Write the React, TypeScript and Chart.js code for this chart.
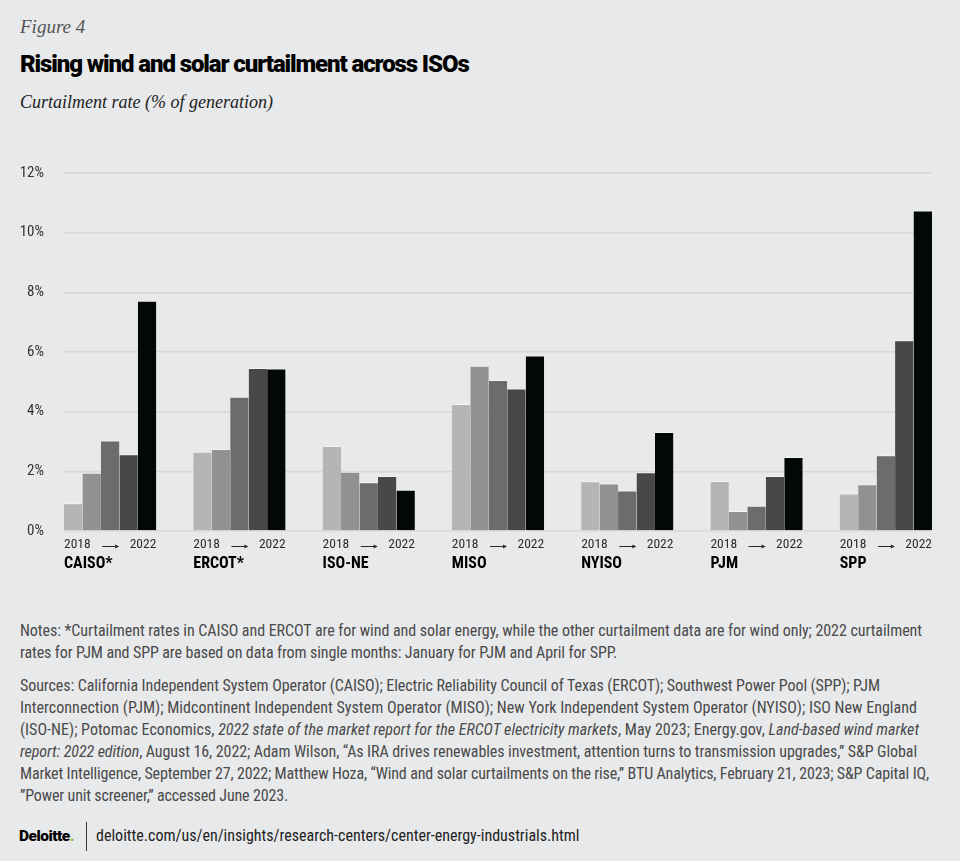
import React, { useEffect, useLayoutEffect, useRef } from 'react';
import { Chart, registerables } from 'chart.js';

Chart.register(...registerables);

// ---------- data ----------
const isos = ['CAISO*', 'ERCOT*', 'ISO-NE', 'MISO', 'NYISO', 'PJM', 'SPP'];
const years = ['2018', '2019', '2020', '2021', '2022'];
const v2018 = [0.93, 2.66, 2.85, 4.26, 1.67, 1.68, 1.26];
const v2019 = [1.95, 2.75, 1.99, 5.54, 1.59, 0.67, 1.57];
const v2020 = [3.03, 4.5, 1.63, 5.06, 1.36, 0.85, 2.54];
const v2021 = [2.57, 5.46, 1.84, 4.78, 1.97, 1.84, 6.39];
const v2022 = [7.72, 5.45, 1.38, 5.88, 3.32, 2.48, 10.74];
const seriesValues = [v2018, v2019, v2020, v2021, v2022];
const barColors = ['#b5b5b5', '#919191', '#6b6c6b', '#484848', '#040708'];
const yMin = 0;
const yMax = 12;
const yStep = 2;

const NARROW = '"Liberation Sans Narrow", "Roboto Condensed", Roboto, sans-serif';
const SANS = 'Roboto, "Noto Sans", sans-serif';
const SERIF = '"Liberation Serif", "DejaVu Serif", serif';

const groupLabels = {
  id: 'groupLabels',
  afterDraw(chart: any) {
    const ctx = chart.ctx;
    const first = chart.getDatasetMeta(0);
    const last = chart.getDatasetMeta(chart.data.datasets.length - 1);
    const base = chart.chartArea.bottom;
    isos.forEach((name, i) => {
      const b0 = first.data[i] as any;
      const b1 = last.data[i] as any;
      if (!b0 || !b1) return;
      const left = b0.x - b0.width / 2;
      const right = b1.x + b1.width / 2;
      const yy = base + 14;
      ctx.save();
      ctx.fillStyle = '#2b2b2b';
      ctx.font = `13.5px ${NARROW}`;
      ctx.textBaseline = 'middle';
      ctx.textAlign = 'left';
      ctx.fillText(years[0], left, yy);
      ctx.textAlign = 'right';
      ctx.fillText(years[years.length - 1], right, yy);
      const mid = (left + right) / 2;
      ctx.strokeStyle = '#2b2b2b';
      ctx.lineWidth = 1;
      ctx.beginPath();
      ctx.moveTo(mid - 8, yy + 1.5);
      ctx.lineTo(mid + 6, yy + 1.5);
      ctx.stroke();
      ctx.beginPath();
      ctx.moveTo(mid + 9, yy + 1.5);
      ctx.lineTo(mid + 5, yy - 0.5);
      ctx.lineTo(mid + 5, yy + 3.5);
      ctx.closePath();
      ctx.fill();
      ctx.font = `bold 16px ${NARROW}`;
      ctx.fillStyle = '#000';
      ctx.textAlign = 'left';
      ctx.fillText(name, left, base + 33);
      ctx.restore();
    });
  },
};

type LineProps = { top: number; width: number; children: React.ReactNode };

function FitLine({ top, width, children }: LineProps) {
  const r = useRef<HTMLSpanElement | null>(null);
  useLayoutEffect(() => {
    const el = r.current;
    if (!el) return;
    el.style.letterSpacing = '0px';
    const w = el.getBoundingClientRect().width;
    const n = (el.textContent || '').length || 1;
    el.style.letterSpacing = `${(width - w) / n}px`;
  }, [width]);
  return (
    <div
      style={{
        position: 'absolute',
        left: 20,
        top,
        whiteSpace: 'nowrap',
        fontFamily: NARROW,
        fontSize: 16,
        color: '#4a4a4a',
        lineHeight: '22px',
      }}
    >
      <span ref={r} style={{ display: 'inline-block' }}>
        {children}
      </span>
    </div>
  );
}

export default function App() {
  const ref = useRef<HTMLCanvasElement | null>(null);

  useEffect(() => {
    document.body.style.margin = '0';
    document.body.style.background = '#e8e9eb';
    if (!ref.current) return;
    const chart = new Chart(ref.current, {
      type: 'bar',
      data: {
        datasets: years.map((yr, k) => ({
          label: yr,
          data: seriesValues[k].map((v, i) => ({ x: i, y: v })),
          backgroundColor: barColors[k],
          borderColor: 'rgba(255,255,255,0.55)',
          borderWidth: { top: 1, left: 0, right: 0, bottom: 0 },
          borderSkipped: false,
          barPercentage: 1,
          categoryPercentage: 0.714,
        })),
      },
      options: {
        animation: false,
        responsive: true,
        maintainAspectRatio: false,
        layout: { padding: { top: 33, right: 28, left: 0, bottom: 0 } },
        plugins: { legend: { display: false }, tooltip: { enabled: false } },
        scales: {
          x: {
            type: 'linear',
            offset: false,
            min: -0.357,
            max: isos.length - 1 + 0.357,
            ticks: { display: false },
            grid: { display: false, offset: false },
            border: { display: false },
            afterFit: (s: any) => {
              s.height = 59;
            },
          },
          y: {
            min: yMin,
            max: yMax,
            ticks: {
              stepSize: yStep,
              padding: 20,
              color: '#333',
              font: { family: NARROW, size: 15 },
              callback: (v: any) => `${v}%`,
            },
            grid: { color: '#d7d8da', lineWidth: 1.5, drawTicks: false },
            border: { display: false },
            afterFit: (s: any) => {
              s.width = 64;
            },
          },
        },
      } as any,
      plugins: [groupLabels],
    });
    return () => chart.destroy();
  }, []);

  return (
    <div style={{ position: 'relative', width: 960, height: 861, background: '#e8e9eb', overflow: 'hidden' }}>
      <div style={{ position: 'absolute', left: 20, top: 16, fontFamily: SERIF, fontStyle: 'italic', fontSize: 19, color: '#555' }}>
        Figure 4
      </div>
      <div
        style={{
          position: 'absolute',
          left: 20,
          top: 50,
          fontFamily: SANS,
          fontWeight: 900,
          fontSize: 24,
          letterSpacing: '-1.1px',
          color: '#000',
          whiteSpace: 'nowrap',
        }}
      >
        Rising wind and solar curtailment across ISOs
      </div>
      <div style={{ position: 'absolute', left: 20, top: 92, fontFamily: SERIF, fontStyle: 'italic', fontSize: 18, color: '#222' }}>
        Curtailment rate (% of generation)
      </div>
      <div style={{ position: 'absolute', left: 0, top: 140, width: 960, height: 450 }}>
        <canvas ref={ref} />
      </div>

      <FitLine top={620} width={902}>
        Notes: *Curtailment rates in CAISO and ERCOT are for wind and solar energy, while the other curtailment data are for wind only; 2022 curtailment
      </FitLine>
      <FitLine top={642} width={597}>
        rates for PJM and SPP are based on data from single months: January for PJM and April for SPP.
      </FitLine>
      <FitLine top={675} width={860}>
        Sources: California Independent System Operator (CAISO); Electric Reliability Council of Texas (ERCOT); Southwest Power Pool (SPP); PJM
      </FitLine>
      <FitLine top={697} width={897}>
        Interconnection (PJM); Midcontinent Independent System Operator (MISO); New York Independent System Operator (NYISO); ISO New England
      </FitLine>
      <FitLine top={719} width={899}>
        (ISO-NE); Potomac Economics, <i>2022 state of the market report for the ERCOT electricity markets</i>, May 2023; Energy.gov,{' '}
        <i>Land-based wind market</i>
      </FitLine>
      <FitLine top={741} width={897}>
        <i>report: 2022 edition</i>, August 16, 2022; Adam Wilson, “As IRA drives renewables investment, attention turns to transmission upgrades,” S&amp;P Global
      </FitLine>
      <FitLine top={763} width={909}>
        Market Intelligence, September 27, 2022; Matthew Hoza, “Wind and solar curtailments on the rise,” BTU Analytics, February 21, 2023; S&amp;P Capital IQ,
      </FitLine>
      <FitLine top={785} width={268}>
        ”Power unit screener,” accessed June 2023.
      </FitLine>

      <div
        style={{
          position: 'absolute',
          left: 19,
          top: 827,
          fontFamily: SANS,
          fontWeight: 900,
          fontSize: 15.5,
          letterSpacing: '-0.5px',
          color: '#000',
        }}
      >
        Deloitte<span style={{ color: '#86bc25' }}>.</span>
      </div>
      <div style={{ position: 'absolute', left: 86, top: 822, width: 1, height: 29, background: '#333' }} />
      <div style={{ position: 'absolute', left: 96, top: 826, fontFamily: NARROW, fontSize: 16, color: '#222', whiteSpace: 'nowrap' }}>
        deloitte.com/us/en/insights/research-centers/center-energy-industrials.html
      </div>
    </div>
  );
}
